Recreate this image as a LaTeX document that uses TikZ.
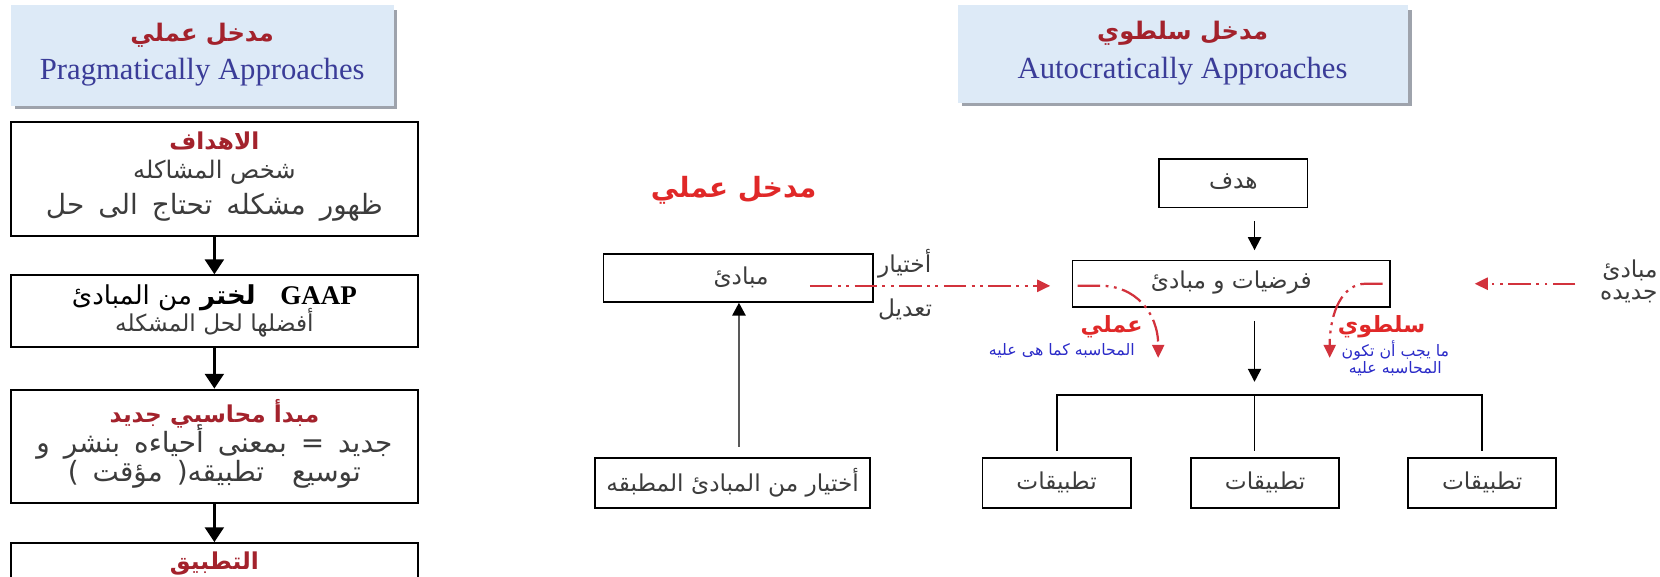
\documentclass[tikz,border=0pt]{standalone}
\usepackage{fontspec}
\setmainfont{Liberation Serif}
\newfontfamily\ar[Script=Arabic]{DejaVu Sans}
\TeXXeTstate=1
\usetikzlibrary{arrows.meta}
\definecolor{hdrfill}{HTML}{DDEAF7}
\definecolor{hdrshadow}{HTML}{9EA3AC}
\definecolor{darkred}{HTML}{A3222C}
\definecolor{brightred}{HTML}{E02828}
\definecolor{arrowred}{HTML}{D2323C}
\definecolor{engblue}{HTML}{3A3C98}
\definecolor{lblue}{HTML}{2B2BC8}
\definecolor{txtgrey}{HTML}{3C3C3C}
\newcommand\widesp{\spaceskip=0.5em plus 1pt\relax}
\tikzset{
  box/.style={draw=black, line width=1pt, rectangle, inner sep=0pt},
  hdr/.style={fill=hdrfill, rectangle, inner sep=0pt},
  artext/.style={font=\ar\fontsize{12.5}{15}\selectfont, text=txtgrey, inner sep=0pt},
  arwide/.style={font=\ar\fontsize{15}{17}\selectfont\widesp, text=txtgrey, inner sep=0pt},
  arhead/.style={font=\ar\bfseries\fontsize{12.5}{15}\selectfont, text=darkred, inner sep=0pt},
  redhead/.style={font=\ar\bfseries\fontsize{12}{14}\selectfont, text=brightred, inner sep=0pt},
  bluetext/.style={font=\ar\fontsize{8.5}{10}\selectfont, text=lblue, inner sep=0pt},
  engtext/.style={font=\fontsize{16.5}{19}\selectfont, text=engblue, inner sep=0pt},
  bigarrow/.style={draw=black, line width=1.8pt, -{Triangle[length=8pt,width=10pt]}},
  blackarrow/.style={draw=black, line width=1pt, -{Triangle[length=7pt,width=7pt]}},
  greyarrow/.style={draw=black!65, line width=1.5pt, -{Triangle[length=7pt,width=7pt,fill=black,color=black]}},
  conn/.style={draw=black, line width=1pt},
  redarrow/.style={draw=arrowred, line width=1.2pt, dash pattern=on 12pt off 3pt on 1.5pt off 3pt on 1.5pt off 3pt, -{Triangle[length=7pt,width=6.5pt,color=arrowred]}},
}
\begin{document}
\begin{tikzpicture}[x=0.02cm,y=-0.02cm]
\useasboundingbox (0,0) rectangle (1568,545);
\clip (0,0) rectangle (1568,545);

% headers
\fill[hdrshadow] (14,9) rectangle (375,103);
\node[hdr, minimum width=7.24cm, minimum height=1.9cm] (hdrL) at (191,52.5) {};
\node[arhead, font=\ar\bfseries\fontsize{13}{15}\selectfont] (hdrLar) at (191,33) {\beginR مدخل عملي\endR};
\node[engtext] (hdrLen) at (191,68) {Pragmatically Approaches};

\fill[hdrshadow] (909,9) rectangle (1334,100);
\node[hdr, minimum width=8.5cm, minimum height=1.84cm] (hdrR) at (1117.5,51) {};
\node[arhead, font=\ar\bfseries\fontsize{13}{15}\selectfont] (hdrRar) at (1117,31) {\beginR مدخل سلطوي\endR};
\node[engtext] (hdrRen) at (1117,67) {Autocratically Approaches};

% left column
\node[box, minimum width=7.7cm, minimum height=2.16cm] (b1) at (202.5,169) {};
\node[arhead] (b1t1) at (202.5,133) {\beginR الاهداف\endR};
\node[artext, font=\ar\fontsize{13}{15}\selectfont] (b1t2) at (202.5,163) {\beginR شخص المشاكله\endR};
\node[arwide] (b1t3) at (202.5,196) {\beginR ظهور مشكله تحتاج الى حل\endR};

\node[box, minimum width=7.7cm, minimum height=1.36cm] (b2) at (202.5,294) {};
\node[artext, font=\ar\fontsize{14}{16}\selectfont] (b2t1) at (202.5,281) {\beginR{\bfseries\color{darkred!75!black}لختر} {\color{darkred}من المبادئ}\endR\ \ \ {\rmfamily\bfseries\color{black}\fontsize{14.5}{16}\selectfont GAAP}};
\node[artext] (b2t2) at (202.5,305) {\beginR أفضلها لحل المشكله\endR};

\node[box, minimum width=7.7cm, minimum height=2.14cm] (b3) at (202.5,421.5) {};
\node[arhead] (b3t1) at (202.5,391) {\beginR مبدأ محاسبي جديد\endR};
\node[arwide] (b3t2) at (202.5,417) {\beginR جديد = بمعنى أحياءه بنشر و\endR};
\node[arwide] (b3t3) at (202.5,448) {\beginR توسيع\ \ تطبيقه( مؤقت )\endR};

\node[box, minimum width=7.7cm, minimum height=1.28cm] (b4) at (202.5,545) {};
\node[arhead] (b4t1) at (202.5,532) {\beginR التطبيق\endR};

\draw[bigarrow] (b1.south) -- (b2.north);
\draw[bigarrow] (b2.south) -- (b3.north);
\draw[bigarrow] (b3.south) -- (b4.north);

% middle
\node[redhead, font=\ar\bfseries\fontsize{15}{17}\selectfont] (midtitle) at (693,180) {\beginR مدخل عملي\endR};
\node[box, minimum width=5.1cm, minimum height=0.9cm] (m1) at (697.5,262.5) {};
\node[artext] (m1t) at (700,262) {\beginR مبادئ\endR};
\node[box, minimum width=5.2cm, minimum height=0.94cm] (m2) at (692,456.5) {};
\node[artext] (m2t) at (692,456) {\beginR أختيار من المبادئ المطبقه\endR};
\coordinate (m2up) at (698,422);
\draw[greyarrow] (m2up) -- (m1.south -| m2up);

\node[artext, anchor=west] (lblA) at (829,249) {\beginR أختيار\endR};
\node[artext, anchor=west] (lblB) at (829,292) {\beginR تعديل\endR};

% right
\node[box, minimum width=2.8cm, minimum height=0.92cm] (hadaf) at (1165,173) {};
\node[artext] (hadaft) at (1165,172) {\beginR هدف\endR};
\node[box, minimum width=6cm, minimum height=0.88cm] (fard) at (1163,268) {};
\node[artext] (fardt) at (1163,267) {\beginR فرضيات و مبادئ\endR};

\node[box, minimum width=2.8cm, minimum height=0.94cm] (t1) at (998,456.5) {};
\node[artext] (t1t) at (998,456) {\beginR تطبيقات\endR};
\node[box, minimum width=2.8cm, minimum height=0.94cm] (t2) at (1195,456.5) {};
\node[artext] (t2t) at (1195,456) {\beginR تطبيقات\endR};
\node[box, minimum width=2.8cm, minimum height=0.94cm] (t3) at (1400,456.5) {};
\node[artext] (t3t) at (1400,456) {\beginR تطبيقات\endR};

\coordinate (brC) at (1185,373);
\coordinate (brL) at (998,373);
\coordinate (brR) at (1400,373);
\draw[blackarrow, shorten <=7pt, shorten >=5pt] (hadaf.south -| brC) -- (fard.north -| brC);
\draw[blackarrow, shorten <=7pt, shorten >=7pt] (fard.south -| brC) -- (brC);
\draw[conn] ([yshift=0.12cm]t1.north) -- (brL) -- (brR) -- ([yshift=0.12cm]t3.north);
\draw[conn] (brC) -- ([yshift=0.12cm]t2.north -| brC);

% red annotations
\coordinate (rLs) at (765,270);
\coordinate (rLe) at (992,270);
\draw[redarrow] (rLs) -- (rLe);
\coordinate (cLs) at (1018,270);
\coordinate (cLe) at (1094,338);
\draw[redarrow] (cLs) -- (1040,270) .. controls (1072,270) and (1094,295) .. (cLe);

\coordinate (rRs) at (1488,268);
\coordinate (rRe) at (1393,268);
\draw[redarrow] (rRs) -- (rRe);
\coordinate (cRs) at (1306,268);
\coordinate (cRe) at (1256,338);
\draw[redarrow] (cRs) -- (1290,268) .. controls (1268,268) and (1256,295) .. (cRe);

\node[redhead] (amali) at (1050,309) {\beginR عملي\endR};
\node[bluetext] (amaliT) at (1003,331) {\beginR المحاسبه كما هى عليه\endR};
\node[redhead] (sultawi) at (1305,309) {\beginR سلطوي\endR};
\node[bluetext] (sultT1) at (1318,331) {\beginR ما يجب أن تكون\endR};
\node[bluetext] (sultT2) at (1318,348) {\beginR المحاسبه عليه\endR};

\node[artext, anchor=east] (newA) at (1566,255) {\beginR مبادئ\endR};
\node[artext, anchor=east] (newB) at (1566,280) {\beginR جديده\endR};
\end{tikzpicture}
\end{document}
